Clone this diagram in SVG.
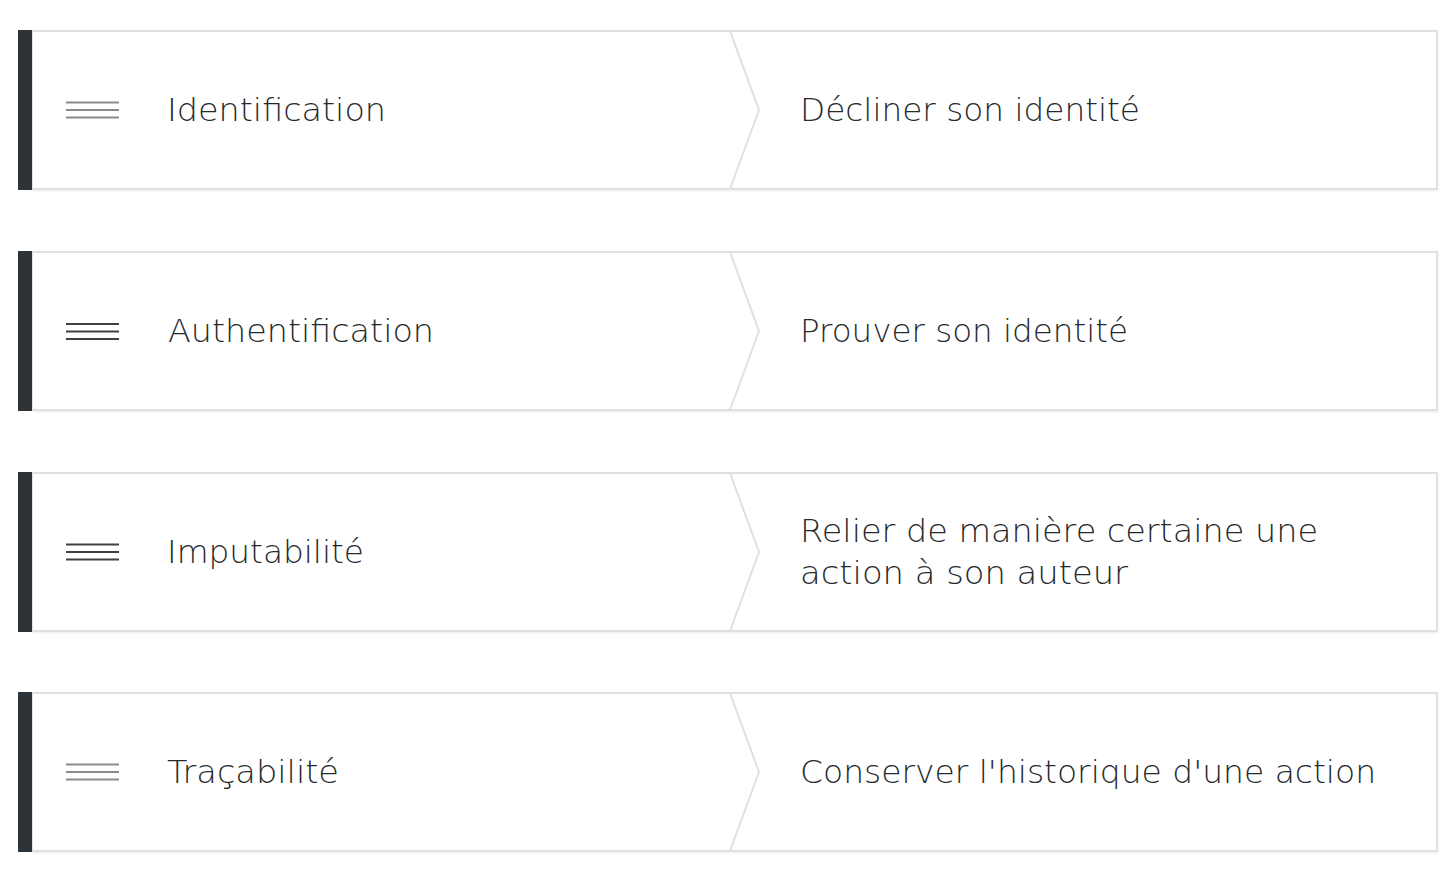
<svg xmlns="http://www.w3.org/2000/svg" width="1456" height="872" viewBox="0 0 1456 872">
<defs>
<style>
.box{fill:#ffffff;stroke:#e0e0e0;stroke-width:2}
.bar{fill:#2e3337}
.chev{fill:none;stroke:#e0e0e0;stroke-width:2}
.t{font-family:"DejaVu Sans","Liberation Sans",sans-serif;font-size:32px;fill:#262a2d;font-weight:300}
.ic1{stroke:#8a8a8a;stroke-width:2.2}
.ic2{stroke:#3c4145;stroke-width:2.2}
</style>
<filter id="sh" x="-2%" y="-5%" width="104%" height="115%">
<feDropShadow dx="0" dy="1" stdDeviation="1.2" flood-color="#000" flood-opacity="0.08"/>
</filter>
</defs>
<g id="row1">
<rect class="box" x="32" y="31" width="1405" height="158" filter="url(#sh)"/>
<rect class="bar" x="18" y="30" width="14" height="160"/>
<polyline class="chev" points="730,31 759,110 730,189"/>
<g class="ic1"><line x1="66" y1="102.5" x2="119" y2="102.5"/><line x1="66" y1="110" x2="119" y2="110"/><line x1="66" y1="117.5" x2="119" y2="117.5"/></g>
<text class="t" x="167" y="121" textLength="219" lengthAdjust="spacingAndGlyphs">Identification</text>
<text class="t" x="800" y="121" textLength="340" lengthAdjust="spacingAndGlyphs">Décliner son identité</text>
</g>
<g id="row2">
<rect class="box" x="32" y="252" width="1405" height="158" filter="url(#sh)"/>
<rect class="bar" x="18" y="251" width="14" height="160"/>
<polyline class="chev" points="730,252 759,331 730,410"/>
<g class="ic2"><line x1="66" y1="324" x2="119" y2="324"/><line x1="66" y1="331.5" x2="119" y2="331.5"/><line x1="66" y1="339" x2="119" y2="339"/></g>
<text class="t" x="168" y="342" textLength="266" lengthAdjust="spacingAndGlyphs">Authentification</text>
<text class="t" x="800" y="342" textLength="328" lengthAdjust="spacingAndGlyphs">Prouver son identité</text>
</g>
<g id="row3">
<rect class="box" x="32" y="473" width="1405" height="158" filter="url(#sh)"/>
<rect class="bar" x="18" y="472" width="14" height="160"/>
<polyline class="chev" points="730,473 759,552 730,631"/>
<g class="ic2"><line x1="66" y1="544.5" x2="119" y2="544.5"/><line x1="66" y1="552" x2="119" y2="552"/><line x1="66" y1="559.5" x2="119" y2="559.5"/></g>
<text class="t" x="167" y="563" textLength="197" lengthAdjust="spacingAndGlyphs">Imputabilité</text>
<text class="t" x="800" y="542" textLength="518" lengthAdjust="spacingAndGlyphs">Relier de manière certaine une</text>
<text class="t" x="800" y="584" textLength="328" lengthAdjust="spacingAndGlyphs">action à son auteur</text>
</g>
<g id="row4">
<rect class="box" x="32" y="693" width="1405" height="158" filter="url(#sh)"/>
<rect class="bar" x="18" y="692" width="14" height="160"/>
<polyline class="chev" points="730,693 759,772 730,851"/>
<g class="ic1"><line x1="66" y1="764.5" x2="119" y2="764.5"/><line x1="66" y1="772" x2="119" y2="772"/><line x1="66" y1="779.5" x2="119" y2="779.5"/></g>
<text class="t" x="167" y="783" textLength="172" lengthAdjust="spacingAndGlyphs">Traçabilité</text>
<text class="t" x="800" y="783" textLength="576" lengthAdjust="spacingAndGlyphs">Conserver l'historique d'une action</text>
</g>
<g id="connectors"></g>
</svg>
